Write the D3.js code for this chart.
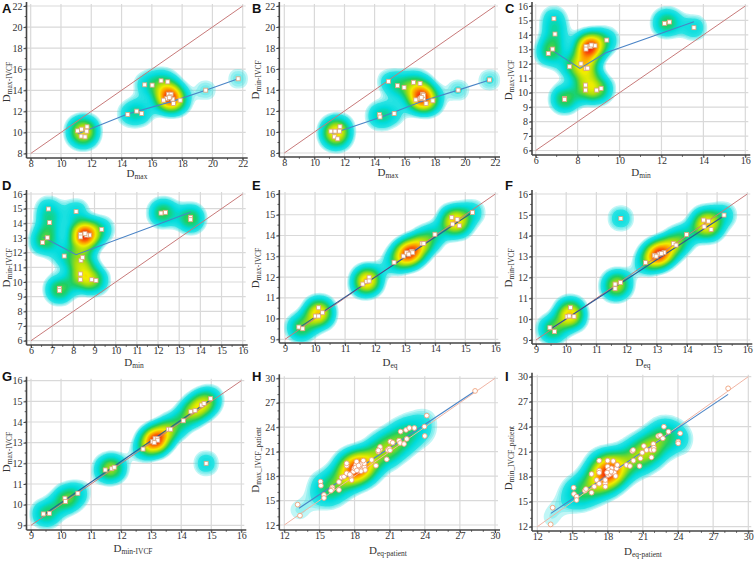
<!DOCTYPE html>
<html>
<head>
<meta charset="utf-8">
<script src="https://cdn.jsdelivr.net/npm/d3@7"></script>
<style>
  body { margin: 0; background: #fff; }
  svg { display: block; }
</style>
</head>
<body>
<script>
// ---- data ----
var ticksMax = [8, 10, 12, 14, 16, 18, 20, 22];
var ticksMin = [6, 7, 8, 9, 10, 11, 12, 13, 14, 15, 16];
var ticksMinC = [6, 8, 10, 12, 14, 16];
var ticksEq = [9, 10, 11, 12, 13, 14, 15, 16];
var ticksPatient = [12, 15, 18, 21, 24, 27, 30];

// A: Dmax vs Dmax-IVCF
var pointsA = [[11.1, 10.15], [11.35, 10.31], [11.72, 10.53], [11.7, 10.12], [11.33, 9.65], [11.59, 9.58],
  [14.41, 11.7], [15.0, 12.02], [15.33, 11.8],
  [15.53, 14.52], [16.02, 14.49], [16.61, 14.9], [17.05, 14.8],
  [17.1, 13.63], [17.27, 13.63], [16.99, 13.22], [17.38, 13.16], [16.77, 13.06], [17.43, 12.75],
  [17.87, 13.06], [17.2, 13.38], [17.15, 13.3],
  [19.56, 14.01], [21.7, 15.09]];
var fitA = [[11.1, 9.85], [14.4, 11.75], [17.4, 12.97], [19.56, 14.0], [21.7, 15.09]];

// B: Dmax vs Dmin-IVCF
var pointsB = [[11.1, 10.08], [11.37, 10.08], [11.7, 10.5], [11.66, 10.08], [11.33, 9.54], [11.55, 9.35],
  [14.32, 11.65], [14.36, 11.43], [15.3, 11.75],
  [14.92, 14.83], [15.52, 14.41], [15.96, 14.25], [16.58, 14.73], [17.02, 14.63],
  [17.18, 13.6], [17.25, 13.19], [17.02, 13.19], [16.74, 13.06], [17.42, 12.71], [17.87, 12.97],
  [17.25, 13.5], [17.1, 13.3],
  [19.55, 13.99], [21.64, 14.96]];
var fitB = [[11.15, 9.83], [14.5, 11.45], [17.2, 12.95], [19.55, 13.99], [21.64, 14.96]];

// C: Dmin vs Dmax-IVCF
var pointsC = [[6.87, 15.12], [6.92, 14.06], [6.81, 13.02], [6.6, 12.72], [7.62, 11.8], [8.16, 12.0],
  [8.4, 11.68], [8.48, 11.7], [8.4, 13.2], [8.4, 13.02], [8.83, 13.25], [9.39, 13.64], [8.6, 13.19],
  [8.65, 13.3], [8.38, 10.53], [8.38, 10.18], [8.91, 10.18], [9.12, 10.3], [7.38, 9.6], [7.38, 9.53],
  [12.15, 14.8], [12.38, 14.89], [13.55, 14.5]];
var fitC = [[6.65, 13.07], [8.11, 11.68], [9.35, 12.77], [13.55, 14.91]];

// D: Dmin vs Dmin-IVCF
var pointsD = [[6.83, 14.98], [6.88, 14.05], [6.77, 13.02], [6.55, 12.7], [8.13, 14.8], [7.57, 11.77],
  [8.36, 11.48], [8.44, 11.68], [8.34, 13.23], [8.34, 13.07], [8.76, 13.2], [9.34, 13.59], [8.62, 13.2],
  [8.55, 13.3], [8.33, 10.55], [8.33, 10.16], [8.87, 10.16], [9.07, 10.11], [7.34, 9.57], [7.34, 9.41],
  [12.14, 14.7], [12.35, 14.75], [13.54, 14.41], [13.54, 14.25]];
var fitD = [[6.58, 13.05], [8.13, 11.86], [13.54, 14.75]];

// E: Deq vs Dmax-IVCF
var pointsE = [[9.46, 9.59], [9.59, 9.51], [10.01, 10.12], [10.12, 10.52], [10.12, 10.12], [10.25, 10.28],
  [11.59, 11.66], [11.72, 11.78], [11.8, 11.99], [11.8, 11.81],
  [12.63, 12.71], [12.94, 13.01], [13.05, 13.17], [13.22, 13.24], [13.25, 13.17], [13.12, 13.1],
  [13.56, 13.62], [13.62, 13.62], [13.99, 14.06],
  [14.55, 14.87], [14.58, 14.55], [14.73, 14.78], [14.8, 14.47], [15.24, 15.11]];
var fitE = [[9.46, 9.55], [15.24, 15.12]];

// F: Deq vs Dmin-IVCF
var pointsF = [[9.46, 9.59], [9.61, 9.4], [10.03, 10.12], [10.14, 10.55], [10.1, 10.15], [10.26, 10.12],
  [11.62, 11.68], [11.62, 11.46], [11.8, 11.75], [11.81, 14.83],
  [12.63, 12.71], [12.92, 13.06], [13.08, 13.12], [13.24, 13.2], [13.15, 13.15], [12.98, 13.02],
  [13.55, 13.63], [13.64, 13.55], [13.99, 14.06],
  [14.55, 14.75], [14.57, 14.43], [14.71, 14.7], [14.8, 14.3], [15.23, 14.99]];
var fitF = [[9.46, 9.5], [15.23, 14.96]];

// G: Dmin-IVCF vs Dmax-IVCF
var pointsG = [[9.41, 9.55], [9.61, 9.58], [10.13, 10.31], [10.15, 10.15], [10.56, 10.55],
  [11.47, 11.68], [11.69, 11.74], [11.77, 11.81],
  [12.73, 12.69], [13.05, 13.06], [13.13, 13.21], [13.2, 13.2], [13.22, 13.12], [13.1, 13.0],
  [13.57, 13.65], [13.65, 13.65], [14.07, 14.06],
  [14.32, 14.5], [14.46, 14.55], [14.68, 14.82], [14.76, 14.9], [14.98, 15.13], [14.83, 12.0]];
var fitG = [[9.41, 9.5], [14.98, 15.08]];

// H: Deq-patient vs Dmax_IVCF_patient
var pointsH = [[13.14, 14.5], [13.34, 13.15], [15.1, 17.32], [15.13, 16.83], [15.39, 15.68], [15.39, 15.31],
  [16.1, 16.62], [16.1, 16.38], [15.99, 16.21], [16.67, 16.3], [16.67, 17.28], [16.9, 17.85],
  [17.1, 17.93], [17.33, 18.34], [17.33, 19.28], [17.33, 19.57], [17.75, 17.52], [17.9, 18.55],
  [17.98, 18.96], [18.13, 19.37], [18.18, 19.77], [18.32, 18.96], [18.47, 19.16], [18.61, 19.49],
  [18.7, 18.83], [18.84, 19.12], [18.84, 19.57], [18.75, 19.9], [18.9, 18.75], [17.67, 18.06],
  [18.1, 19.05], [18.35, 19.3], [18.55, 18.6], [18.2, 18.7], [17.6, 18.2],
  [19.46, 19.98], [19.83, 19.28], [20.03, 21.0], [20.18, 21.29], [20.18, 21.57], [20.03, 21.16],
  [20.75, 20.06], [20.83, 21.2], [20.97, 21.37], [21.03, 21.16], [21.06, 22.23], [21.26, 22.1],
  [21.8, 22.35], [21.89, 22.06], [21.94, 23.46], [22.23, 21.94], [22.46, 22.56], [22.4, 23.66],
  [22.68, 23.9], [23.11, 23.9], [23.97, 24.07], [24.0, 22.92], [24.17, 25.42], [28.3, 28.45]];
var fitH = [[13.25, 14.05], [28.3, 28.45]];

// I: Deq-patient vs Dmin_IVCF_patient
var pointsI = [[13.31, 14.28], [13.14, 12.28], [15.1, 16.68], [15.13, 15.92], [15.35, 15.6], [15.35, 15.2],
  [16.06, 16.32], [16.15, 16.52], [16.63, 16.08], [16.63, 18.32], [16.86, 16.8], [17.06, 17.6],
  [17.28, 18.72], [17.28, 18.48], [17.28, 17.16], [17.28, 19.92], [17.8, 17.2], [17.8, 16.8],
  [17.8, 17.6], [18.0, 19.92], [18.0, 19.2], [18.05, 18.2], [18.2, 18.32], [18.33, 19.0],
  [18.42, 18.48], [18.48, 19.88], [18.56, 18.48], [18.68, 18.08], [18.76, 19.0], [18.82, 19.4],
  [18.1, 18.8], [18.3, 18.6], [17.95, 18.5],
  [19.6, 19.4], [19.9, 19.28], [20.1, 21.08], [20.18, 21.2], [20.2, 19.92], [20.72, 19.28],
  [20.8, 20.2], [20.95, 20.88], [21.09, 21.68], [21.32, 21.2], [21.72, 21.2], [21.74, 20.32],
  [21.9, 21.92], [21.94, 21.48], [21.94, 21.2], [22.31, 22.88], [22.48, 22.96], [22.71, 22.6],
  [22.8, 24.0], [23.19, 23.4], [24.02, 22.2], [24.02, 22.0], [24.19, 23.2], [28.28, 28.6]];
var fitI = [[13.16, 13.6], [28.28, 27.88]];

// ---- layout of the nine panels ----
var panels = [
  { letter: "A", lx: 2, ly: 13, xd: [8, 22], yd: [8, 22], xr: [30.7, 242.7], yr: [153.5, 6], axL: 26.5, axB: 158,
    xt: ticksMax, yt: ticksMax, pts: pointsA, fit: fitA, xTitle: ["D", "max"], yTitle: ["D", "max-IVCF"],
    xtp: [137, 176.5] , ytp: [10, 82] },
  { letter: "B", lx: 252, ly: 13, xd: [8, 22], yd: [8, 22], xr: [284.3, 495], yr: [153, 6], axL: 279.3, axB: 157,
    xt: ticksMax, yt: ticksMax, pts: pointsB, fit: fitB, xTitle: ["D", "max"], yTitle: ["D", "min-IVCF"],
    xtp: [388, 176], ytp: [259, 80] },
  { letter: "C", lx: 505, ly: 13, xd: [6, 16], yd: [6, 16], xr: [535.7, 745.3], yr: [150.5, 6], axL: 532, axB: 155,
    xt: ticksMinC, yt: ticksMin, pts: pointsC, fit: fitC, xTitle: ["D", "min"], yTitle: ["D", "max-IVCF"],
    xtp: [641, 176], ytp: [512, 80] },
  { letter: "D", lx: 2, ly: 190, xd: [6, 16], yd: [6, 16], xr: [31, 242.7], yr: [340.7, 194], axL: 26.5, axB: 345,
    xt: ticksMin, yt: ticksMin, pts: pointsD, fit: fitD, xTitle: ["D", "min"], yTitle: ["D", "min-IVCF"],
    xtp: [134, 366], ytp: [10, 268] },
  { letter: "E", lx: 252, ly: 190, xd: [9, 16], yd: [9, 16], xr: [285, 495.3], yr: [339.3, 194], axL: 279.3, axB: 343,
    xt: ticksEq, yt: ticksEq, pts: pointsE, fit: fitE, xTitle: ["D", "eq"], yTitle: ["D", "max-IVCF"],
    xtp: [390, 366], ytp: [259, 268] },
  { letter: "F", lx: 505, ly: 190, xd: [9, 16], yd: [9, 16], xr: [536, 747.3], yr: [340, 194], axL: 532, axB: 344,
    xt: ticksEq, yt: ticksEq, pts: pointsF, fit: fitF, xTitle: ["D", "eq"], yTitle: ["D", "min-IVCF"],
    xtp: [643, 366], ytp: [512, 268] },
  { letter: "G", lx: 2, ly: 381, xd: [9, 16], yd: [9, 16], xr: [31, 241.3], yr: [525.3, 380.7], axL: 26.5, axB: 530,
    xt: ticksEq, yt: ticksEq, pts: pointsG, fit: fitG, xTitle: ["D", "min-IVCF"], yTitle: ["D", "max-IVCF"],
    xtp: [133, 552], ytp: [10, 452] },
  { letter: "H", lx: 252, ly: 381, xd: [12, 30], yd: [12, 30], xr: [284.3, 495], yr: [525, 378.3], axL: 279.3, axB: 530,
    xt: ticksPatient, yt: ticksPatient, pts: pointsH, fit: fitH, xTitle: ["D", "eq-patient"], yTitle: ["D", "max_IVCF_patient"],
    xtp: [388, 554], ytp: [259, 460], circles: true },
  { letter: "I", lx: 505, ly: 381, xd: [12, 30], yd: [12, 30], xr: [537.3, 748.3], yr: [526.7, 376.7], axL: 532, axB: 531,
    xt: ticksPatient, yt: ticksPatient, pts: pointsI, fit: fitI, xTitle: ["D", "eq-patient"], yTitle: ["D", "min_IVCF_patient"],
    xtp: [643, 555], ytp: [512, 458], circles: true }
];

var serif = "'Liberation Serif', 'Times New Roman', serif";
var sans = "'Liberation Sans', Arial, sans-serif";

// density colours: faint cyan halo -> cyan -> green -> yellow -> red
var heat = d3.scaleLinear()
  .domain([0.11, 0.22, 0.36, 0.5, 0.64, 0.8, 1])
  .range(["#30e4e4", "#00dcdc", "#1ecf62", "#9edc12", "#f2ee00", "#ff9800", "#f01a10"])
  .clamp(true);
var levels = d3.range(0.07, 0.99, 0.018);

var svg = d3.select("body").append("svg").attr("width", 754).attr("height", 561);
var defs = svg.append("defs");

panels.forEach(function(p, i) { drawPanel(p, i); });

function densityLayers(pts, w, h, bw) {
  var est = d3.contourDensity()
    .x(function(d) { return d[0]; })
    .y(function(d) { return d[1]; })
    .size([w, h]).cellSize(2).bandwidth(bw);
  if (est.contours) {
    var c = est.contours(pts);
    return levels.map(function(f) { var g = c(c.max * f); g.f = f; return g; });
  }
  var all = est.thresholds(150)(pts);
  var mx = all[all.length - 1].value * 1.03;
  return levels.map(function(f) { var g = est.thresholds([mx * f])(pts)[0]; g.f = f; return g; });
}

function subTitle(sel, parts, size) {
  sel.append("tspan").text(parts[0]).attr("font-size", size);
  sel.append("tspan").text(parts[1]).attr("font-size", size * 0.68).attr("dy", size * 0.22);
}

function drawPanel(p, idx) {
  var x = d3.scaleLinear().domain(p.xd).range(p.xr);
  var y = d3.scaleLinear().domain(p.yd).range(p.yr);
  var g = svg.append("g");
  var right = p.xr[1] + 3, top = p.yr[1] - 2;

  // grid
  g.append("g").selectAll("line.v").data(p.xt).enter().append("line")
    .attr("x1", function(d) { return x(d); }).attr("x2", function(d) { return x(d); })
    .attr("y1", p.axB).attr("y2", top)
    .attr("stroke", "#d9d9d9").attr("stroke-width", 1.2);
  g.append("g").selectAll("line.h").data(p.yt).enter().append("line")
    .attr("y1", function(d) { return y(d); }).attr("y2", function(d) { return y(d); })
    .attr("x1", p.axL).attr("x2", right)
    .attr("stroke", "#d9d9d9").attr("stroke-width", 1.2);

  // density
  var clipId = "clip" + idx;
  defs.append("clipPath").attr("id", clipId).append("rect")
    .attr("x", p.axL + 1).attr("y", top - 8).attr("width", right + 8 - p.axL).attr("height", p.axB - top + 7);
  var bx = p.axL - 16, by = top - 20;
  var bw = right + 30 - bx, bh = p.axB + 16 - by;
  var local = p.pts.map(function(d) { return [x(d[0]) - bx, y(d[1]) - by]; });
  var layers = densityLayers(local, bw, bh, p.circles ? 9.5 : 8);
  g.append("g").attr("clip-path", "url(#" + clipId + ")")
    .append("g").attr("transform", "translate(" + bx + "," + by + ")")
    .selectAll("path").data(layers).enter().append("path")
    .attr("d", d3.geoPath())
    .attr("fill", function(d) { return d.f < 0.11 ? "#3ce4e4" : heat(d.f); })
    .attr("fill-opacity", function(d) { return d.f < 0.11 ? 0.32 : 1; });

  // identity line
  var lo = Math.max(p.xd[0], p.yd[0]), hi = Math.min(p.xd[1], p.yd[1]);
  g.append("line")
    .attr("x1", x(lo)).attr("y1", y(lo)).attr("x2", x(hi)).attr("y2", y(hi))
    .attr("stroke", p.circles ? "#f0b4a4" : "#c87a7a").attr("stroke-width", 1);

  // fitted line
  var line = d3.line().x(function(d) { return x(d[0]); }).y(function(d) { return y(d[1]); });
  var eq = p.xd[0] === 9 && p.yd[0] === 9;
  g.append("path").datum(p.fit).attr("d", line).attr("fill", "none")
    .attr("stroke", eq ? "#2d5894" : "#4a84c6").attr("stroke-width", 1.1);

  // points
  if (p.circles) {
    g.append("g").selectAll("circle").data(p.pts).enter().append("circle")
      .attr("cx", function(d) { return x(d[0]); }).attr("cy", function(d) { return y(d[1]); })
      .attr("r", 2.4).attr("fill", "#fff").attr("stroke", "#eea27c").attr("stroke-width", 0.9);
  } else {
    g.append("g").selectAll("rect").data(p.pts).enter().append("rect")
      .attr("x", function(d) { return x(d[0]) - 2; }).attr("y", function(d) { return y(d[1]) - 2; })
      .attr("width", 4).attr("height", 4)
      .attr("fill", "#fff").attr("stroke", "#dca47c").attr("stroke-width", 0.8);
  }

  // axes
  var step = p.xt[1] - p.xt[0], ystep = p.yt[1] - p.yt[0];
  var xMinor = d3.range(p.xd[0], p.xd[1] + 1e-9, step / (step === 3 ? 3 : 2));
  var yMinor = d3.range(p.yd[0], p.yd[1] + 1e-9, ystep / (ystep === 3 ? 3 : 2));
  var ax = g.append("g").attr("transform", "translate(0," + p.axB + ")")
    .call(d3.axisBottom(x).tickValues(p.xt).tickSize(3).tickPadding(-1).tickFormat(d3.format("d")));
  var ay = g.append("g").attr("transform", "translate(" + p.axL + ",0)")
    .call(d3.axisLeft(y).tickValues(p.yt).tickSize(3).tickPadding(1).tickFormat(d3.format("d")));
  [ax, ay].forEach(function(a) {
    a.select(".domain").remove();
    a.selectAll("line").attr("stroke", "#444");
    a.selectAll("text").attr("font-family", serif).attr("font-size", 10).attr("fill", "#333");
  });
  g.append("g").selectAll("line").data(xMinor).enter().append("line")
    .attr("x1", function(d) { return x(d); }).attr("x2", function(d) { return x(d); })
    .attr("y1", p.axB).attr("y2", p.axB + 1.8).attr("stroke", "#555");
  g.append("g").selectAll("line").data(yMinor).enter().append("line")
    .attr("y1", function(d) { return y(d); }).attr("y2", function(d) { return y(d); })
    .attr("x1", p.axL).attr("x2", p.axL - 1.8).attr("stroke", "#555");
  g.append("line").attr("x1", p.axL).attr("x2", right + 2).attr("y1", p.axB).attr("y2", p.axB)
    .attr("stroke", "#444").attr("stroke-width", 1.6);
  g.append("line").attr("x1", p.axL).attr("x2", p.axL).attr("y1", p.axB).attr("y2", top - 2)
    .attr("stroke", "#444").attr("stroke-width", 1.6);

  // titles
  var xt = g.append("text").attr("x", p.xtp[0]).attr("y", p.xtp[1])
    .attr("text-anchor", "middle").attr("font-family", serif).attr("fill", "#333");
  subTitle(xt, p.xTitle, 11);
  var yt = g.append("text").attr("transform", "translate(" + p.ytp[0] + "," + p.ytp[1] + ") rotate(-90)")
    .attr("text-anchor", "middle").attr("font-family", serif).attr("fill", "#333");
  subTitle(yt, p.yTitle, 11);

  g.append("text").attr("x", p.lx).attr("y", p.ly).text(p.letter)
    .attr("font-family", sans).attr("font-weight", "bold").attr("font-size", 13).attr("fill", "#111");
}
</script>
</body>
</html>
